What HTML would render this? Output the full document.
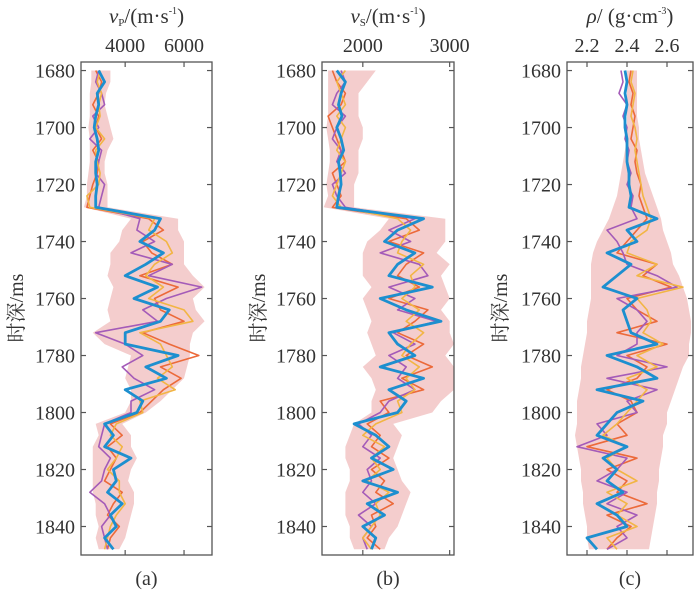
<!DOCTYPE html>
<html><head><meta charset="utf-8"><style>
html,body{margin:0;padding:0;background:#fff;}
svg{display:block;font-family:"Liberation Serif","Noto Serif CJK SC",serif;}
</style></head><body>
<svg id="chart" width="700" height="592" viewBox="0 0 700 592"></svg>
<script>
const depths = [];
for (let i = 0; i < 43; i++) depths.push(1680 + 4 * i);
const yTicks = [1680,1700,1720,1740,1760,1780,1800,1820,1840];

const vpBlue = [3100,3300,3050,3100,3000,2950,3050,3100,3000,3000,3050,3000,3000, 5200,5000,4500,5300,4700,4000,5100,4300,5500,5200,4000,4000,5800,4700,5400,4000,4600,4400, 3300,3600,3300,4200,3600,3700,3400,3900,3500,3700,3300,3600];
const vpOrange = [3000,3200,3100,2900,3100,3000,3200,2900,3100,3050,2900,2800,2700, 4800,5300,4600,4900,5600,4500,5800,5000,5200,6000,4600,5500,6500,5200,5900,5300,4900,4500, 3500,3900,3400,3700,3500,3300,3900,3600,3400,3800,3500,3400];
const vpPurple = [3100,3000,3200,3300,2900,3100,2800,3200,3100,3000,3300,3200,3100, 4500,4400,5000,4200,5600,4800,6600,5400,4600,5100,3000,4000,4600,3900,4300,5000,4200,4200, 3300,3200,3100,3500,3300,3200,2800,3300,3500,3200,3300,3400];
const vpYellow = [3150,3050,3200,3100,3150,3000,3300,3000,3050,3150,3100,2700,2800, 5000,4800,5400,5600,5000,4700,5300,4800,6000,6300,4500,5200,5400,5600,5100,5700,4500,4600, 3700,3500,3900,3700,3400,3800,3800,4000,3700,3500,3400,3300];
const vpLo = [2850,2850,2800,2800,2800,2750,2800,2800,2800,2750,2700,2700,2600, 4200,3900,3800,3500,3500,3400,3600,3500,3400,3500,2900,3300,4200,4100,4000,4200,4200,4000, 3000,3100,2900,2900,2900,2900,2900,3000,3000,3100,3000,3100];
const vpHi = [3500,3500,3350,3300,3400,3500,3600,3400,3300,3300,3400,3400,3400, 5800,5800,6000,6000,6000,6300,6700,6300,6400,6700,6300,6200,6200,6100,6000,5600,5200,4700, 3900,4200,4200,4400,4200,4100,4300,4300,4200,4100,4000,3800];

const vsBlue = [1700,1800,1750,1720,1760,1700,1750,1780,1720,1740,1750,1720,1700, 2700,2400,2250,2600,2400,2300,2800,2200,2500,2900,2300,2400,2600,2200,2700,2300,2500,2400, 1900,2150,2300,2100,2350,2000,2400,2050,2250,2000,2150,2100];
const vsOrange = [1650,1700,1800,1750,1600,1650,1700,1750,1800,1650,1700,1750,1650, 2500,2650,2300,2700,2500,2400,2650,2300,2750,2600,2400,2700,2500,2800,2450,2700,2200,2300, 2050,2200,2100,2300,2100,2250,2150,2350,2100,2150,2050,2200];
const vsPurple = [1750,1800,1700,1650,1800,1700,1650,1750,1700,1800,1650,1700,1800, 2600,2300,2550,2200,2650,2750,2300,2600,2400,2850,2350,2600,2300,2500,2400,2600,2300,2200, 1950,2100,2000,2200,2050,2100,2000,2150,1950,2100,2000,2050];
const vsYellow = [1800,1700,1750,1800,1700,1800,1750,1700,1800,1750,1700,1650,1750, 2400,2550,2450,2400,2700,2550,2600,2450,2650,2500,2700,2550,2450,2650,2500,2600,2400,2450, 2150,2000,2250,2100,2200,2050,2300,2150,2200,2100,2000,2100];
const vsLo = [1600,1600,1600,1600,1600,1580,1600,1620,1620,1600,1580,1600,1550, 2300,2200,2050,2000,2000,2000,2100,2000,2050,2100,2050,2100,2150,2000,2100,2150,2100,2100, 1900,1850,1800,1800,1850,1850,1800,1800,1800,1850,1850,1900];
const vsHi = [2150,2050,1950,1950,1950,2000,2000,1950,1950,1950,1900,1900,1900, 2950,2950,2950,2850,3000,2900,2950,3000,2900,3000,3000,3050,2950,3050,3050,3050,2900,2800, 2350,2450,2400,2350,2400,2450,2550,2500,2450,2400,2300,2250];

const rhoBlue = [2.39,2.40,2.39,2.40,2.39,2.39,2.40,2.40,2.40,2.41,2.41,2.42,2.41, 2.55,2.40,2.45,2.30,2.42,2.35,2.28,2.45,2.38,2.40,2.42,2.55,2.30,2.45,2.55,2.25,2.48,2.35, 2.30,2.25,2.40,2.28,2.35,2.30,2.38,2.25,2.35,2.40,2.20,2.25];
const rhoOrange = [2.42,2.41,2.43,2.42,2.44,2.43,2.42,2.45,2.44,2.45,2.47,2.46,2.48, 2.50,2.45,2.40,2.35,2.55,2.48,2.62,2.40,2.45,2.55,2.35,2.60,2.40,2.50,2.45,2.30,2.42,2.45, 2.35,2.40,2.20,2.45,2.30,2.40,2.35,2.50,2.30,2.42,2.35,2.30];
const rhoPurple = [2.37,2.38,2.36,2.40,2.38,2.40,2.39,2.41,2.40,2.42,2.40,2.43,2.42, 2.45,2.30,2.35,2.38,2.40,2.55,2.65,2.35,2.45,2.50,2.45,2.45,2.35,2.60,2.30,2.55,2.40,2.45, 2.25,2.30,2.15,2.40,2.35,2.25,2.40,2.30,2.45,2.35,2.40,2.30];
const rhoYellow = [2.43,2.42,2.44,2.43,2.42,2.44,2.45,2.44,2.45,2.46,2.47,2.48,2.50, 2.52,2.50,2.42,2.40,2.55,2.45,2.68,2.45,2.50,2.52,2.48,2.58,2.45,2.55,2.40,2.50,2.45,2.40, 2.35,2.28,2.40,2.30,2.35,2.45,2.30,2.40,2.35,2.45,2.30,2.35];
const rhoLo = [2.40,2.40,2.40,2.40,2.40,2.40,2.40,2.39,2.38,2.37,2.36,2.35,2.33, 2.31,2.28,2.25,2.23,2.22,2.22,2.22,2.22,2.21,2.20,2.20,2.19,2.18,2.17,2.17,2.16,2.15,2.15, 2.15,2.14,2.15,2.16,2.17,2.17,2.18,2.18,2.19,2.20,2.20,2.21];
const rhoHi = [2.45,2.45,2.45,2.45,2.45,2.46,2.46,2.47,2.48,2.49,2.51,2.53,2.55, 2.57,2.58,2.60,2.62,2.63,2.66,2.68,2.70,2.71,2.72,2.72,2.71,2.71,2.68,2.66,2.64,2.62,2.60, 2.60,2.58,2.58,2.57,2.56,2.56,2.55,2.55,2.54,2.53,2.52,2.51];

const vpTicks = [4000,6000];
const vsTicks = [2000,3000];
const rhoTicks = ["2.2","2.4","2.6"];

const NS = "http://www.w3.org/2000/svg";
const svg = document.getElementById("chart");
function mk(tag, attrs, parent) {
  const e = document.createElementNS(NS, tag);
  for (const k in attrs) e.setAttribute(k, attrs[k]);
  (parent || svg).appendChild(e);
  return e;
}
const Y0 = 62, Y1 = 555, D0 = 1677, D1 = 1850;
const yScale = d => Y0 + (d - D0) / (D1 - D0) * (Y1 - Y0);

const panels = [
  {key:"vp", left:81, right:212, xmin:2500, xmax:6950, ticks:vpTicks, series:[vpLo,vpHi,vpOrange,vpPurple,vpYellow,vpBlue], title:["v","P","/(m·s","-1",")"], letter:"(a)", ylx:16},
  {key:"vs", left:322, right:454, xmin:1530, xmax:3050, ticks:vsTicks, series:[vsLo,vsHi,vsOrange,vsPurple,vsYellow,vsBlue], title:["v","S","/(m·s","-1",")"], letter:"(b)", ylx:258},
  {key:"rho", left:567, right:693, xmin:2.1, xmax:2.73, ticks:rhoTicks, series:[rhoLo,rhoHi,rhoOrange,rhoPurple,rhoYellow,rhoBlue], title:["ρ","","/ (g·cm","-3",")"], letter:"(c)", ylx:500}
];

panels.forEach(p => {
  const xs = v => p.left + (v - p.xmin) / (p.xmax - p.xmin) * (p.right - p.left);
  const g = mk("g", {});
  
  
  const clipId = "clip-" + p.key;
  const cp = mk("clipPath", {id: clipId}, g);
  mk("rect", {x:p.left, y:Y0, width:p.right-p.left, height:Y1-Y0}, cp);
  const plot = mk("g", {"clip-path":"url(#"+clipId+")"}, g);
  const [lo, hi, or, pu, ye, bl] = p.series;
  let dBand = "";
  depths.forEach((d,i)=>{ dBand += (i?"L":"M") + xs(lo[i]).toFixed(1) + " " + yScale(d).toFixed(1); });
  for (let i = depths.length-1; i >= 0; i--) dBand += "L" + xs(hi[i]).toFixed(1) + " " + yScale(depths[i]).toFixed(1);
  const band = mk("path", {d:dBand+"Z", fill:"#f2c4c4", opacity:"0.85"}, plot);
  
  
  const lineDefs = [[or,"#ec6a3a",1.6,"orange"],[pu,"#a45bb8",1.6,"purple"],[ye,"#f2b544",1.6,"yellow"],[bl,"#1d8fcf",2.8,"blue-mean"]];
  lineDefs.forEach(([arr,col,w,nm])=>{
    let d = "";
    arr.forEach((v,i)=>{ d += (i?"L":"M") + xs(v).toFixed(1) + " " + yScale(depths[i]).toFixed(1); });
    const l = mk("path", {d, fill:"none", stroke:col, "stroke-width":w, "stroke-linejoin":"round"}, plot);
    
    
  });
  const fr = mk("rect", {x:p.left, y:Y0, width:p.right-p.left, height:Y1-Y0, fill:"none", stroke:"#555", "stroke-width":1.3}, g);
  
  
  yTicks.forEach(t=>{
    const y = yScale(t);
    mk("line",{x1:p.left,x2:p.left+5,y1:y,y2:y,stroke:"#555","stroke-width":1.2},g);
    mk("line",{x1:p.right,x2:p.right-5,y1:y,y2:y,stroke:"#555","stroke-width":1.2},g);
    const tx = mk("text",{x:p.left-6,y:y+7,"text-anchor":"end","font-size":"20",fill:"#333"},g);
    tx.textContent = t;
    
    
  });
  p.ticks.forEach(t=>{
    const x = xs(+t);
    mk("line",{x1:x,x2:x,y1:Y0,y2:Y0+5,stroke:"#555","stroke-width":1.2},g);
    mk("line",{x1:x,x2:x,y1:Y1,y2:Y1-5,stroke:"#555","stroke-width":1.2},g);
    const tx = mk("text",{x:x,y:52,"text-anchor":"middle","font-size":"20",fill:"#333"},g);
    tx.textContent = t;
    
    
  });
  const cx = (p.left + p.right) / 2;
  const tt = mk("text",{x:cx,y:23,"text-anchor":"middle","font-size":"21",fill:"#333"},g);
  
  
  const t1 = mk("tspan",{"font-style":"italic"},tt); t1.textContent = p.title[0];
  if (p.title[1]) { const t2 = mk("tspan",{"font-size":"11",dy:"3"},tt); t2.textContent = p.title[1]; }
  const t3 = mk("tspan",{"dy": p.title[1] ? "-3" : "0"},tt); t3.textContent = p.title[2];
  const t4 = mk("tspan",{"font-size":"10",dy:"-9"},tt); t4.textContent = p.title[3];
  const t5 = mk("tspan",{dy:"9"},tt); t5.textContent = p.title[4];
  const yl = mk("text",{x:0,y:0,transform:`translate(${p.ylx+7},308) rotate(-90)`,"text-anchor":"middle","font-size":"20",fill:"#333","font-family":"'Liberation Serif','Noto Serif CJK SC',serif"},g);
  yl.textContent = "时深/ms";
  
  
  const lt = mk("text",{x:cx,y:585,"text-anchor":"middle","font-size":"20",fill:"#333"},g);
  lt.textContent = p.letter;
  
  
});
</script>
</body></html>
